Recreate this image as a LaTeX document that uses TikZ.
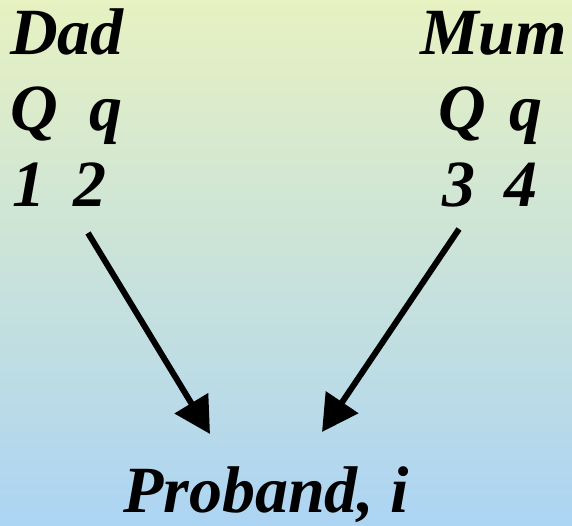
\documentclass[tikz,border=0pt]{standalone}
\usepackage{fontspec}
\setmainfont{Liberation Serif}
\usetikzlibrary{arrows.meta}
\definecolor{bgtop}{RGB}{231,241,193}
\definecolor{bgbot}{RGB}{172,212,243}
\tikzset{
  lbl/.style={inner sep=0pt, anchor=base west, font=\fontsize{66}{66}\selectfont\bfseries\itshape},
  arr/.style={line width=6pt, -{Triangle[length=36pt,width=38pt]}}
}
\begin{document}
\begin{tikzpicture}[x=1pt,y=-1pt]
\shade[top color=bgtop, bottom color=bgbot] (0,0) rectangle (572,526);
\useasboundingbox (0,0) rectangle (572,526);
\node[lbl] (dad) at (10,55) {Dad};
\node[lbl] (dQ) at (10,131) {Q};
\node[lbl] (dq) at (89,131) {q};
\node[lbl] (d1) at (12,207) {1};
\node[lbl] (d2) at (73,207) {2};
\node[lbl] (mum) at (420,55) {Mum};
\node[lbl] (mQ) at (438,131) {Q};
\node[lbl] (mq) at (509,131) {q};
\node[lbl] (m3) at (442,207) {3};
\node[lbl] (m4) at (504,207) {4};
\node[lbl] (proband) at (123,512) {Proband, i};
\coordinate (ls) at (88,233);
\coordinate (lt) at (210,434);
\coordinate (rs) at (459,229);
\coordinate (rt) at (322,432);
\draw[arr] (ls) -- (lt);
\draw[arr] (rs) -- (rt);
\end{tikzpicture}
\end{document}
